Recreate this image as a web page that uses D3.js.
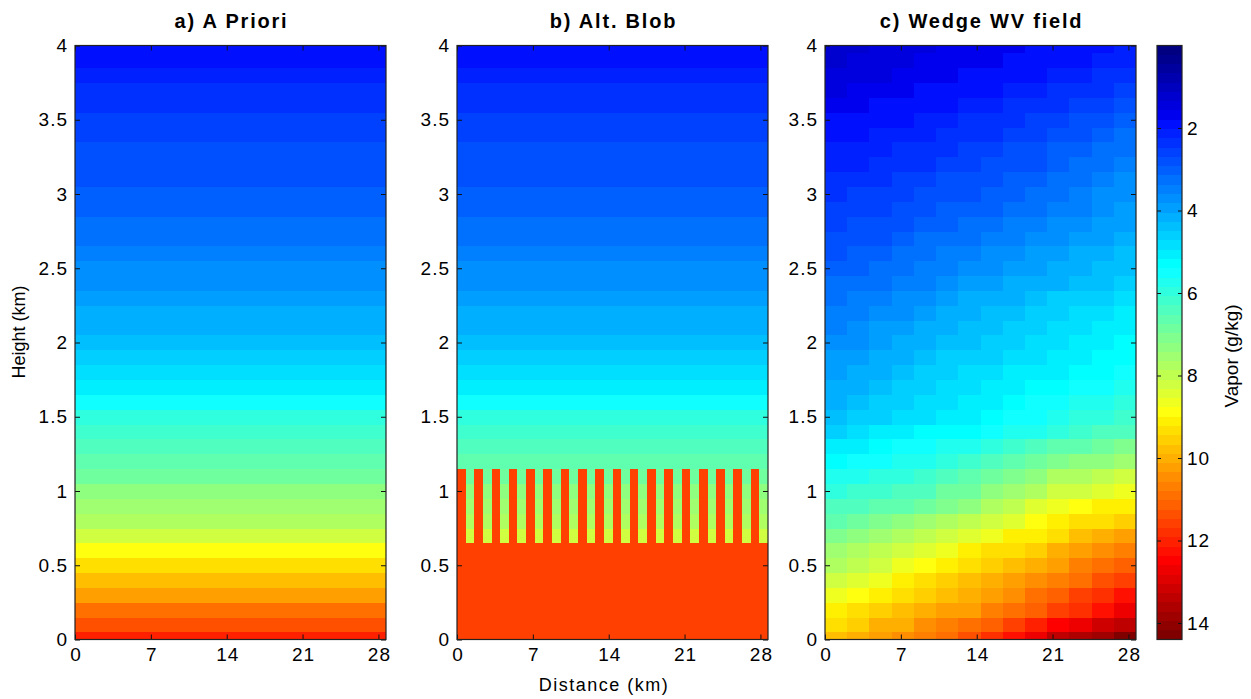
<!DOCTYPE html>
<html>
<head>
<meta charset="utf-8">
<script src="https://cdn.jsdelivr.net/npm/d3@7"></script>
<style>
  body { margin: 0; background: #fff; }
  text { font-family: "Liberation Sans", Arial, Helvetica, sans-serif; fill: #000; }
</style>
</head>
<body>
<div id="chart"></div>
<script>
// page size
var svgWidth = 1251;
var svgHeight = 699;

// data
var panelTitles = ["a) A Priori", "b) Alt. Blob", "c) Wedge WV field"];
var distanceTicks = [0, 7, 14, 21, 28];
var heightTicks = [0, 0.5, 1, 1.5, 2, 2.5, 3, 3.5, 4];
var vaporTicks = [2, 4, 6, 8, 10, 12, 14];
var distanceMax = 28.7;
var vaporMax = 14.4;

// grid levels (km), cell centres
var heightLevels = [0, 0.1, 0.2, 0.3, 0.4, 0.5, 0.6, 0.7, 0.8, 0.9, 1.0,
  1.1, 1.2, 1.3, 1.4, 1.5, 1.6, 1.7, 1.8, 1.9, 2.0,
  2.1, 2.2, 2.3, 2.4, 2.5, 2.6, 2.7, 2.8, 2.9, 3.0,
  3.1, 3.2, 3.3, 3.4, 3.5, 3.6, 3.7, 3.8, 3.9, 4.0];

// a priori vapour profile (g/kg), one value per level
var aprioriVapor = [12.0, 11.4, 10.8, 10.2, 9.8, 9.4, 8.9, 8.2, 7.85, 7.5, 7.2,
  6.95, 6.7, 6.45, 6.2, 5.9, 5.5, 5.0, 4.75, 4.55, 4.35,
  4.2, 4.05, 3.9, 3.7, 3.6, 3.45, 3.35, 3.25, 3.1, 3.0,
  2.9, 2.8, 2.75, 2.6, 2.5, 2.4, 2.3, 2.1, 1.85, 1.8];

// blob: solid up to 0.6 km, striped columns from 0.7 to 1.1 km
var blobVapor = 11.5;
var blobSolidTop = 0.6;
var blobStripeTop = 1.1;
var blobColumns = 36;

// wedge field: one row per level (bottom first), 14 columns across distance
var wedgeVapor = [
  [9.8, 10.0, 10.2, 10.4, 10.7, 11.0, 11.3, 11.8, 12.3, 12.8, 13.3, 13.6, 13.9, 14.2],
  [9.4, 9.65, 9.9, 10.1, 10.35, 10.6, 10.8, 11.2, 11.6, 12.0, 12.4, 12.7, 13.1, 13.4],
  [9.0, 9.3, 9.6, 9.8, 10.0, 10.2, 10.3, 10.6, 10.9, 11.2, 11.5, 11.9, 12.3, 12.7],
  [8.6, 8.9, 9.2, 9.4, 9.6, 9.8, 10.0, 10.3, 10.5, 10.8, 11.1, 11.5, 11.9, 12.2],
  [8.15, 8.45, 8.7, 9.0, 9.25, 9.5, 9.7, 9.95, 10.2, 10.4, 10.7, 11.0, 11.3, 11.65],
  [7.75, 8.05, 8.3, 8.6, 8.9, 9.15, 9.4, 9.65, 9.85, 10.05, 10.3, 10.6, 10.9, 11.15],
  [7.45, 7.7, 7.95, 8.2, 8.5, 8.75, 9.0, 9.25, 9.45, 9.65, 9.9, 10.15, 10.4, 10.65],
  [7.0, 7.25, 7.5, 7.7, 8.0, 8.25, 8.5, 8.75, 9.0, 9.2, 9.45, 9.7, 9.95, 10.15],
  [6.7, 6.85, 7.05, 7.2, 7.45, 7.7, 7.9, 8.2, 8.5, 8.8, 9.05, 9.25, 9.45, 9.65],
  [6.35, 6.5, 6.6, 6.7, 6.9, 7.1, 7.35, 7.65, 8.0, 8.35, 8.65, 8.8, 9.0, 9.15],
  [5.95, 6.1, 6.2, 6.3, 6.5, 6.75, 6.95, 7.2, 7.55, 7.85, 8.15, 8.3, 8.5, 8.65],
  [5.65, 5.8, 5.9, 6.0, 6.2, 6.35, 6.55, 6.8, 7.1, 7.4, 7.65, 7.8, 7.95, 8.1],
  [5.3, 5.4, 5.55, 5.7, 5.85, 6.0, 6.15, 6.35, 6.6, 6.8, 7.05, 7.2, 7.35, 7.5],
  [5.0, 5.1, 5.25, 5.4, 5.55, 5.65, 5.75, 5.95, 6.15, 6.35, 6.55, 6.7, 6.85, 7.0],
  [4.6, 4.75, 4.95, 5.1, 5.2, 5.3, 5.35, 5.5, 5.7, 5.85, 6.05, 6.2, 6.35, 6.5],
  [4.35, 4.5, 4.65, 4.8, 4.9, 5.0, 5.1, 5.25, 5.45, 5.6, 5.75, 5.9, 6.05, 6.2],
  [4.2, 4.35, 4.55, 4.7, 4.8, 4.9, 4.95, 5.1, 5.25, 5.4, 5.55, 5.7, 5.85, 6.0],
  [4.05, 4.2, 4.35, 4.5, 4.65, 4.75, 4.85, 5.0, 5.1, 5.2, 5.35, 5.45, 5.6, 5.75],
  [4.0, 4.1, 4.25, 4.4, 4.55, 4.65, 4.75, 4.85, 4.95, 5.05, 5.15, 5.25, 5.35, 5.5],
  [3.85, 3.95, 4.1, 4.25, 4.4, 4.5, 4.6, 4.7, 4.8, 4.9, 5.0, 5.1, 5.2, 5.3],
  [3.7, 3.8, 3.95, 4.1, 4.25, 4.35, 4.45, 4.6, 4.7, 4.8, 4.9, 5.0, 5.1, 5.2],
  [3.55, 3.7, 3.85, 3.95, 4.1, 4.25, 4.35, 4.45, 4.55, 4.65, 4.8, 4.9, 5.0, 5.1],
  [3.4, 3.55, 3.7, 3.8, 3.95, 4.1, 4.2, 4.3, 4.4, 4.5, 4.65, 4.75, 4.85, 4.95],
  [3.25, 3.4, 3.5, 3.6, 3.75, 3.9, 4.05, 4.15, 4.25, 4.35, 4.5, 4.6, 4.7, 4.8],
  [3.15, 3.25, 3.3, 3.4, 3.55, 3.7, 3.85, 3.95, 4.05, 4.15, 4.25, 4.35, 4.45, 4.6],
  [3.0, 3.1, 3.15, 3.25, 3.4, 3.55, 3.7, 3.8, 3.9, 4.0, 4.1, 4.2, 4.3, 4.45],
  [2.85, 2.95, 3.05, 3.15, 3.3, 3.45, 3.55, 3.65, 3.75, 3.85, 3.95, 4.05, 4.15, 4.3],
  [2.75, 2.85, 2.9, 3.0, 3.15, 3.25, 3.35, 3.45, 3.55, 3.65, 3.75, 3.85, 4.0, 4.15],
  [2.65, 2.75, 2.8, 2.9, 3.0, 3.1, 3.2, 3.3, 3.4, 3.5, 3.6, 3.7, 3.85, 4.0],
  [2.5, 2.6, 2.65, 2.75, 2.85, 2.95, 3.05, 3.1, 3.2, 3.3, 3.4, 3.55, 3.7, 3.85],
  [2.4, 2.5, 2.55, 2.65, 2.75, 2.85, 2.9, 3.0, 3.1, 3.2, 3.3, 3.45, 3.6, 3.75],
  [2.3, 2.35, 2.45, 2.5, 2.6, 2.7, 2.8, 2.85, 2.95, 3.05, 3.15, 3.3, 3.45, 3.6],
  [2.15, 2.2, 2.3, 2.35, 2.45, 2.55, 2.6, 2.7, 2.8, 2.9, 3.05, 3.15, 3.3, 3.45],
  [2.05, 2.1, 2.2, 2.25, 2.3, 2.4, 2.5, 2.6, 2.7, 2.8, 2.95, 3.05, 3.15, 3.3],
  [1.9, 1.95, 2.05, 2.1, 2.2, 2.25, 2.35, 2.45, 2.55, 2.65, 2.8, 2.9, 3.0, 3.15],
  [1.8, 1.85, 1.9, 1.95, 2.05, 2.15, 2.25, 2.3, 2.4, 2.5, 2.65, 2.75, 2.85, 3.0],
  [1.65, 1.7, 1.8, 1.85, 1.9, 2.0, 2.05, 2.15, 2.25, 2.35, 2.45, 2.55, 2.65, 2.8],
  [1.5, 1.6, 1.65, 1.75, 1.8, 1.85, 1.95, 2.0, 2.05, 2.15, 2.25, 2.35, 2.45, 2.6],
  [1.4, 1.5, 1.55, 1.6, 1.7, 1.75, 1.8, 1.85, 1.9, 2.0, 2.1, 2.2, 2.3, 2.4],
  [1.3, 1.4, 1.5, 1.55, 1.6, 1.65, 1.7, 1.75, 1.8, 1.85, 1.95, 2.0, 2.1, 2.2],
  [1.2, 1.3, 1.4, 1.45, 1.55, 1.6, 1.65, 1.7, 1.75, 1.8, 1.85, 1.9, 2.0, 2.1]
];

// layout
var panelLeft = [75, 457, 825];
var panelWidth = 311;
var plotTop = 45.5;
var plotBottom = 639.5;
var halfLevel = 0.05;

// MATLAB style jet colormap, 64 levels
function jetColor(v) {
  var i = Math.floor(v / vaporMax * 64);
  i = Math.max(0, Math.min(63, i));
  var k = i + 1;
  function u(j) {
    if (j < 1 || j > 47) return 0;
    if (j <= 16) return j / 16;
    if (j <= 31) return 1;
    return (48 - j) / 16;
  }
  return d3.rgb(255 * u(k - 24), 255 * u(k - 8), 255 * u(k + 7)).toString();
}

var svg = d3.select("#chart")
  .append("svg")
  .attr("width", svgWidth)
  .attr("height", svgHeight);

var yScale = d3.scaleLinear().domain([0, 4]).range([plotBottom, plotTop]);

function cellTop(z) { return yScale(Math.min(4, z + halfLevel)); }
function cellBottom(z) { return yScale(Math.max(0, z - halfLevel)); }

// build the cell list of each panel
function aprioriCells() {
  return heightLevels.map(function(z, k) {
    return { x0: 0, x1: distanceMax, z: z, v: aprioriVapor[k] };
  });
}

function blobCells() {
  var cells = [];
  var colW = distanceMax / blobColumns;
  heightLevels.forEach(function(z, k) {
    if (z <= blobSolidTop + 1e-6) {
      cells.push({ x0: 0, x1: distanceMax, z: z, v: blobVapor });
    } else if (z <= blobStripeTop + 1e-6) {
      for (var c = 0; c < blobColumns; c++) {
        cells.push({ x0: c * colW, x1: (c + 1) * colW, z: z,
          v: c % 2 === 0 ? blobVapor : aprioriVapor[k] });
      }
    } else {
      cells.push({ x0: 0, x1: distanceMax, z: z, v: aprioriVapor[k] });
    }
  });
  return cells;
}

function wedgeCells() {
  var cells = [];
  heightLevels.forEach(function(z, k) {
    var row = wedgeVapor[k];
    var colW = distanceMax / row.length;
    row.forEach(function(v, c) {
      cells.push({ x0: c * colW, x1: (c + 1) * colW, z: z, v: v });
    });
  });
  return cells;
}

var cellBuilders = [aprioriCells, blobCells, wedgeCells];

function styleAxis(a) {
  a.select(".domain").remove();
  a.selectAll("line").attr("stroke", "#111");
  a.selectAll("text")
    .style("font-size", "19px")
    .style("letter-spacing", "1px")
    .attr("fill", "#000");
}

panelLeft.forEach(function(left, p) {
  var xScale = d3.scaleLinear().domain([0, distanceMax]).range([left, left + panelWidth]);
  var g = svg.append("g");

  g.selectAll("rect.cell")
    .data(cellBuilders[p]())
    .enter()
    .append("rect")
    .attr("class", "cell")
    .attr("x", d => xScale(d.x0))
    .attr("width", d => xScale(d.x1) - xScale(d.x0) + 0.4)
    .attr("y", d => cellTop(d.z))
    .attr("height", d => cellBottom(d.z) - cellTop(d.z) + 0.4)
    .attr("fill", d => jetColor(d.v))
    .attr("shape-rendering", "crispEdges");

  // inward ticks on all four sides
  var fmt = d3.format("~g");
  var leftAxis = g.append("g").attr("transform", `translate(${left},0)`)
    .call(d3.axisLeft(yScale).tickValues(heightTicks).tickSize(-5).tickPadding(8).tickFormat(fmt));
  var rightAxis = g.append("g").attr("transform", `translate(${left + panelWidth},0)`)
    .call(d3.axisRight(yScale).tickValues(heightTicks).tickSize(-5).tickFormat(""));
  var bottomAxis = g.append("g").attr("transform", `translate(0,${plotBottom})`)
    .call(d3.axisBottom(xScale).tickValues(distanceTicks).tickSize(-5).tickPadding(8).tickFormat(fmt));
  var topAxis = g.append("g").attr("transform", `translate(0,${plotTop})`)
    .call(d3.axisTop(xScale).tickValues(distanceTicks).tickSize(-5).tickFormat(""));

  [leftAxis, rightAxis, bottomAxis, topAxis].forEach(styleAxis);
  leftAxis.selectAll("text").attr("dx", "1px");
  bottomAxis.selectAll("text").attr("dx", "0.5px");

  g.append("rect")
    .attr("x", left)
    .attr("y", plotTop)
    .attr("width", panelWidth)
    .attr("height", plotBottom - plotTop)
    .attr("fill", "none")
    .attr("stroke", "#222")
    .attr("stroke-width", 1.2);

  g.append("text")
    .attr("x", left + panelWidth / 2 + 1)
    .attr("y", 28)
    .attr("text-anchor", "middle")
    .style("font-size", "20px")
    .style("font-weight", "bold")
    .style("letter-spacing", "1.8px")
    .text(panelTitles[p]);
});

// colour bar
var barLeft = 1157;
var barWidth = 25;
var barScale = d3.scaleLinear().domain([0, vaporMax]).range([plotTop, plotBottom]);
var barSteps = d3.range(64);

svg.append("g").selectAll("rect")
  .data(barSteps)
  .enter()
  .append("rect")
  .attr("x", barLeft)
  .attr("width", barWidth)
  .attr("y", d => barScale(d * vaporMax / 64))
  .attr("height", d => barScale((d + 1) * vaporMax / 64) - barScale(d * vaporMax / 64) + 0.4)
  .attr("fill", d => jetColor((d + 0.5) * vaporMax / 64))
  .attr("shape-rendering", "crispEdges");

var barRight = svg.append("g").attr("transform", `translate(${barLeft + barWidth},0)`)
  .call(d3.axisRight(barScale).tickValues(vaporTicks).tickSize(-4).tickPadding(5));
var barLeftAxis = svg.append("g").attr("transform", `translate(${barLeft},0)`)
  .call(d3.axisLeft(barScale).tickValues(vaporTicks).tickSize(-4).tickFormat(""));
[barRight, barLeftAxis].forEach(styleAxis);

svg.append("rect")
  .attr("x", barLeft)
  .attr("y", plotTop)
  .attr("width", barWidth)
  .attr("height", plotBottom - plotTop)
  .attr("fill", "none")
  .attr("stroke", "#222")
  .attr("stroke-width", 1.2);

// axis titles
svg.append("text")
  .attr("transform", "translate(25,332) rotate(-90)")
  .attr("text-anchor", "middle")
  .style("font-size", "18px")
  .text("Height (km)");

svg.append("text")
  .attr("x", 604)
  .attr("y", 691)
  .attr("text-anchor", "middle")
  .style("font-size", "18px")
  .style("letter-spacing", "1.5px")
  .text("Distance (km)");

svg.append("text")
  .attr("transform", "translate(1238,356) rotate(-90)")
  .attr("text-anchor", "middle")
  .style("font-size", "19px")
  .text("Vapor (g/kg)");
</script>
</body>
</html>
